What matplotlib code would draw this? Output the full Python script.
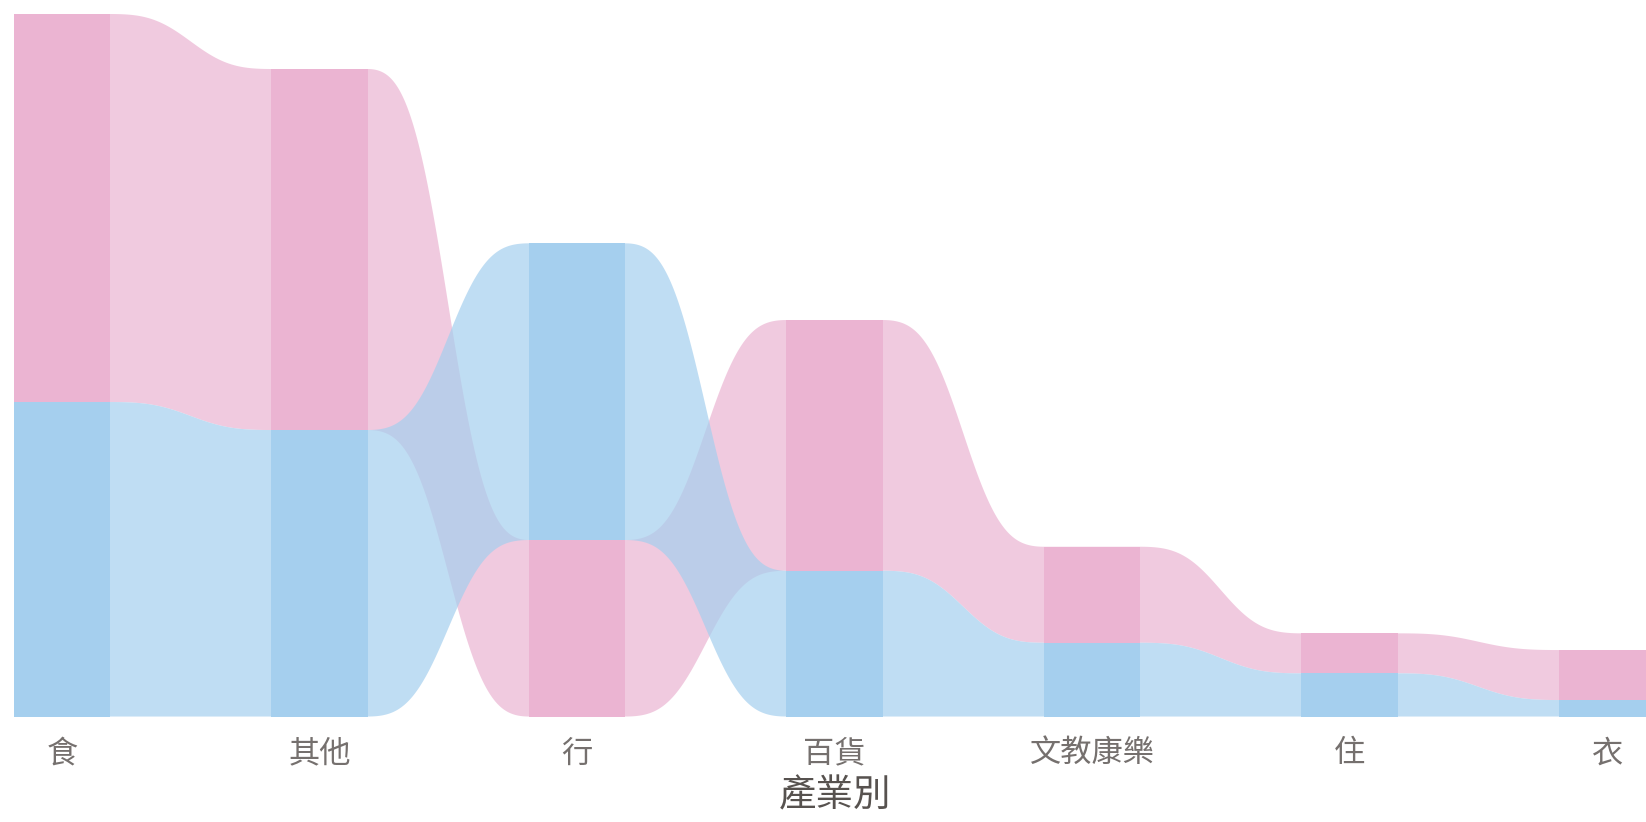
import numpy as np
import matplotlib
matplotlib.use("Agg")
import matplotlib.pyplot as plt

plt.rcParams['font.family'] = ['Noto Sans CJK TC', 'DejaVu Sans']

categories = ['食', '其他', '行', '百貨', '文教康樂', '住', '衣']
pink_values = [388, 361, 176.5, 250.7, 96, 40, 50]
blue_values = [314.5, 286.5, 296.7, 145.8, 73.8, 43.2, 16.5]
# which series sits at the bottom of each stacked bar
bottom_series = ['blue', 'blue', 'pink', 'blue', 'blue', 'blue', 'blue']
x_title = '產業別'

pink_bar = '#EBB4D2'
blue_bar = '#A5CFEE'
ribbon_alpha = 0.7
bar_w = 0.375

fig = plt.figure(figsize=(16.46, 8.22), dpi=100)
ax = fig.add_axes([0, 0.1283, 1, 0.8717])

n = len(categories)
x = np.arange(n)
ext = {'pink': [], 'blue': []}
for i in range(n):
    vals = {'pink': pink_values[i], 'blue': blue_values[i]}
    b = bottom_series[i]
    t = 'pink' if b == 'blue' else 'blue'
    ext[b].append((0.0, vals[b]))
    ext[t].append((vals[b], vals[b] + vals[t]))


def smooth(t):
    return 3 * t ** 2 - 2 * t ** 3


def bezier(t):
    s = np.linspace(0, 1, 2000)
    bx = 1.5 * s * (1 - s) + s ** 3
    by = 3 * s ** 2 - 2 * s ** 3
    return np.interp(t, bx, by)


def shape(t):
    return 0.5 * bezier(t) + 0.5 * smooth(smooth(t))


def ribbon(i, lo0, hi0, lo1, hi1, color):
    xa, xb = x[i] + bar_w / 2, x[i + 1] - bar_w / 2
    tt = np.linspace(0, 1, 300)
    xs = np.concatenate([[x[i]], xa + (xb - xa) * tt, [x[i + 1]]])
    f = np.concatenate([[0.0], shape(tt), [1.0]])
    lo = lo0 + (lo1 - lo0) * f
    hi = hi0 + (hi1 - hi0) * f
    ax.fill_between(xs, lo, hi, facecolor=color, edgecolor='none',
                    alpha=ribbon_alpha, zorder=1, linewidth=0)

for series, col in [('pink', pink_bar), ('blue', blue_bar)]:
    for i in range(n - 1):
        lo0, hi0 = ext[series][i]
        lo1, hi1 = ext[series][i + 1]
        ribbon(i, lo0, hi0, lo1, hi1, col)

for series, col in [('pink', pink_bar), ('blue', blue_bar)]:
    for i in range(n):
        lo, hi = ext[series][i]
        ax.bar(x[i], hi - lo, bottom=lo, width=bar_w, color=col,
               edgecolor='none', linewidth=0, zorder=2)

ax.set_xlim(-0.241, 6.151)
ax.set_ylim(0, 716.5)
for s in ax.spines.values():
    s.set_visible(False)
ax.set_yticks([])
ax.set_xticks(x)
ax.set_xticklabels(categories, fontsize=22.5, color='#75706e')
ax.tick_params(axis='x', length=0, pad=15)
ax.set_xlabel(x_title, fontsize=27, color='#57524f')
ax.xaxis.set_label_coords((3 + 0.241) / 6.392, -0.083)

fig.savefig('out.png', dpi=100)
